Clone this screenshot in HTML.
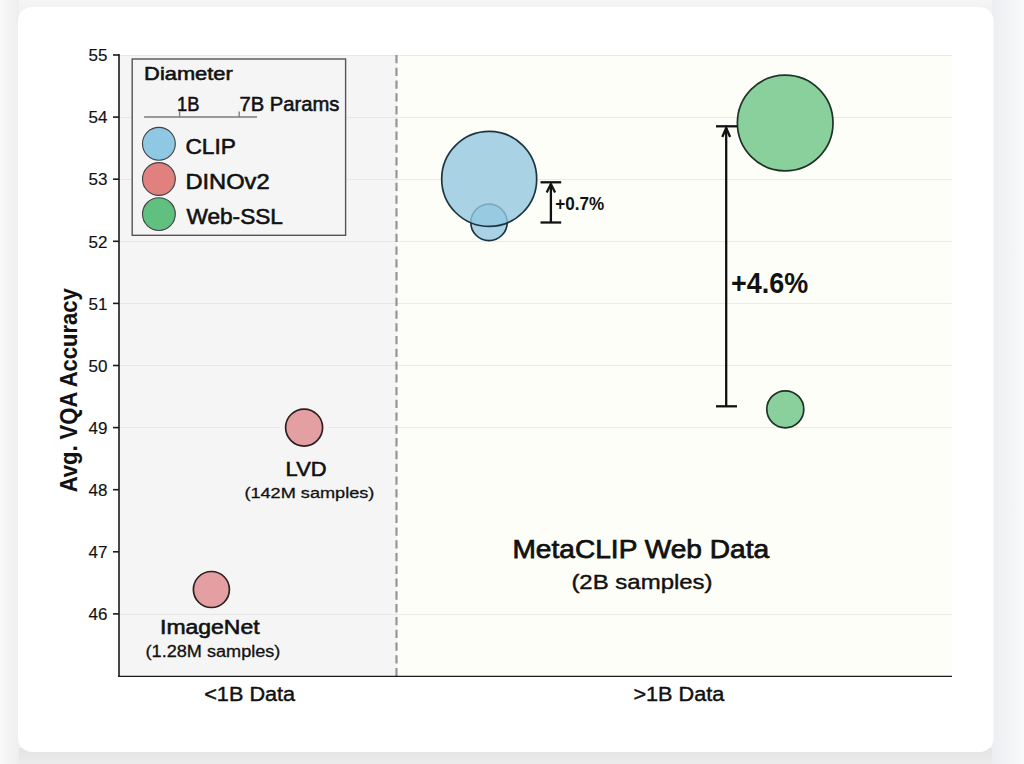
<!DOCTYPE html>
<html><head><meta charset="utf-8">
<style>
html,body{margin:0;padding:0;width:1024px;height:764px;overflow:hidden;background:#f3f3f3;}
svg{display:block;position:absolute;left:0;top:0;}
text{font-family:"Liberation Sans",sans-serif;fill:#111;stroke:#111;stroke-width:0.55px;}
.b{font-weight:bold;stroke-width:0px;}
.tk text{stroke-width:0.15px;}
</style></head>
<body>
<svg width="1024" height="764" viewBox="0 0 1024 764">
<defs>
<linearGradient id="bot" x1="0" y1="0" x2="0" y2="1">
<stop offset="0" stop-color="#e3e3e3"/><stop offset="1" stop-color="#ececec"/>
</linearGradient>
<linearGradient id="top" x1="0" y1="0" x2="0" y2="1">
<stop offset="0" stop-color="#f6f6f6"/><stop offset="1" stop-color="#f1f1f1"/>
</linearGradient>
<linearGradient id="lft" x1="0" y1="0" x2="1" y2="0">
<stop offset="0" stop-color="#f8f8f8"/><stop offset="1" stop-color="#eeeeee"/>
</linearGradient>
<linearGradient id="rgt" x1="0" y1="0" x2="1" y2="0">
<stop offset="0" stop-color="#edeef1"/><stop offset="1" stop-color="#f8f9fa"/>
</linearGradient>
</defs>
<!-- page background -->
<rect x="0" y="0" width="1024" height="764" fill="#f3f3f3"/>
<rect x="0" y="0" width="1024" height="9" fill="url(#top)"/>
<rect x="0" y="748" width="1024" height="16" fill="url(#bot)"/>
<rect x="0" y="0" width="19" height="764" fill="url(#lft)"/>
<rect x="992" y="0" width="32" height="764" fill="url(#rgt)"/>
<!-- card -->
<rect x="18" y="7" width="975.5" height="745" rx="14" ry="14" fill="#ffffff"/>

<!-- plot backgrounds -->
<rect x="119" y="55" width="278" height="621" fill="#f5f5f5"/>
<rect x="397" y="55" width="555" height="621" fill="#fefef8"/>

<!-- gridlines -->
<g stroke="#e6e6e6" stroke-width="1">
<line x1="119" y1="55.5" x2="397" y2="55.5"/>
<line x1="119" y1="117.5" x2="397" y2="117.5"/>
<line x1="119" y1="179.5" x2="397" y2="179.5"/>
<line x1="119" y1="241.5" x2="397" y2="241.5"/>
<line x1="119" y1="303.5" x2="397" y2="303.5"/>
<line x1="119" y1="365.5" x2="397" y2="365.5"/>
<line x1="119" y1="427.5" x2="397" y2="427.5"/>
<line x1="119" y1="614.5" x2="397" y2="614.5"/>
</g>
<g stroke="#ebebe5" stroke-width="1">
<line x1="397" y1="55.5" x2="952" y2="55.5"/>
<line x1="397" y1="117.5" x2="952" y2="117.5"/>
<line x1="397" y1="179.5" x2="952" y2="179.5"/>
<line x1="397" y1="241.5" x2="952" y2="241.5"/>
<line x1="397" y1="303.5" x2="952" y2="303.5"/>
<line x1="397" y1="365.5" x2="952" y2="365.5"/>
<line x1="397" y1="427.5" x2="952" y2="427.5"/>
<line x1="397" y1="614.5" x2="952" y2="614.5"/>
</g>

<!-- dashed divider -->
<line x1="396.5" y1="55" x2="396.5" y2="676" stroke="#969696" stroke-width="2.2" stroke-dasharray="8.3 4.47"/>

<!-- axes -->
<g stroke="#1a1a1a" stroke-width="1.6" fill="none">
<line x1="119" y1="54" x2="119" y2="677"/>
<line x1="118" y1="676.3" x2="952" y2="676.3" stroke-width="1.35"/>
<line x1="113" y1="55" x2="119" y2="55"/>
<line x1="113" y1="117.1" x2="119" y2="117.1"/>
<line x1="113" y1="179.2" x2="119" y2="179.2"/>
<line x1="113" y1="241.3" x2="119" y2="241.3"/>
<line x1="113" y1="303.4" x2="119" y2="303.4"/>
<line x1="113" y1="365.5" x2="119" y2="365.5"/>
<line x1="113" y1="427.6" x2="119" y2="427.6"/>
<line x1="113" y1="489.7" x2="119" y2="489.7"/>
<line x1="113" y1="551.8" x2="119" y2="551.8"/>
<line x1="113" y1="613.9" x2="119" y2="613.9"/>
</g>

<!-- y tick labels -->
<g class="tk" font-size="17" text-anchor="end">
<text x="107.5" y="61.2">55</text>
<text x="107.5" y="123.3">54</text>
<text x="107.5" y="185.4">53</text>
<text x="107.5" y="247.5">52</text>
<text x="107.5" y="309.6">51</text>
<text x="107.5" y="371.7">50</text>
<text x="107.5" y="433.8">49</text>
<text x="107.5" y="495.9">48</text>
<text x="107.5" y="558">47</text>
<text x="107.5" y="620.1">46</text>
</g>

<!-- y label -->
<text font-size="23" font-weight="bold" style="stroke-width:0.1px" transform="translate(77.2,492.3) rotate(-90)" textLength="204" lengthAdjust="spacingAndGlyphs">Avg. VQA Accuracy</text>

<!-- x labels -->
<text x="204.2" y="700.7" font-size="19.5" style="stroke-width:0.4px" textLength="91" lengthAdjust="spacingAndGlyphs">&lt;1B Data</text>
<text x="633.4" y="700.6" font-size="19.5" style="stroke-width:0.4px" textLength="91.0" lengthAdjust="spacingAndGlyphs">&gt;1B Data</text>

<!-- data circles -->
<circle cx="304.1" cy="427.6" r="24" fill="#f5f5f5"/>
<g fill="#f5f5f5">
<circle cx="211.4" cy="589.5" r="18.5"/>
<circle cx="304.1" cy="427.6" r="19"/>
</g>
<g fill="#fefef8">
<circle cx="489" cy="222.4" r="18.7"/>
<circle cx="489.2" cy="178.9" r="48"/>
<circle cx="785.3" cy="409.3" r="19"/>
<circle cx="785.2" cy="123" r="48.3"/>
</g>
<g stroke-width="1.7">
<circle cx="211.4" cy="589.5" r="18" fill="#e08a8e" fill-opacity="0.8" stroke="#2e1f20"/>
<circle cx="304.1" cy="427.6" r="18.5" fill="#e08a8e" fill-opacity="0.8" stroke="#2e1f20"/>
<circle cx="489" cy="222.4" r="18.2" fill="#93c8e0" fill-opacity="0.8" stroke="#1d3540"/>
<circle cx="489.2" cy="178.9" r="47.5" fill="#93c8e0" fill-opacity="0.8" stroke="#1d3540"/>
<circle cx="785.3" cy="409.3" r="18.5" fill="#6cc486" fill-opacity="0.8" stroke="#1d3324"/>
<circle cx="785.2" cy="123" r="47.8" fill="#6cc486" fill-opacity="0.8" stroke="#1d3324"/>
</g>

<!-- data labels -->
<text x="160.0" y="633.9" font-size="19.5" textLength="99.6" lengthAdjust="spacingAndGlyphs">ImageNet</text>
<text x="145.6" y="657.3" font-size="16" style="stroke-width:0.3px" textLength="134.8" lengthAdjust="spacingAndGlyphs">(1.28M samples)</text>
<text x="285.6" y="475.6" font-size="20" textLength="41.0" lengthAdjust="spacingAndGlyphs">LVD</text>
<text x="244.4" y="498.3" font-size="15.5" style="stroke-width:0.3px" textLength="130.0" lengthAdjust="spacingAndGlyphs">(142M samples)</text>
<text x="512.4" y="558.2" font-size="26" style="stroke-width:0.75px" textLength="256.8" lengthAdjust="spacingAndGlyphs">MetaCLIP Web Data</text>
<text x="571.4" y="588.8" font-size="21" style="stroke-width:0.4px" textLength="141.2" lengthAdjust="spacingAndGlyphs">(2B samples)</text>

<!-- brackets -->
<g stroke="#111" stroke-width="2.3" fill="none">
<line x1="540.5" y1="182.3" x2="561.2" y2="182.3"/>
<line x1="540.5" y1="222.5" x2="561.2" y2="222.5"/>
<line x1="550.9" y1="222.5" x2="550.9" y2="184"/>
<polyline points="546.7,192.4 550.9,184 555.1,192.4"/>
<line x1="716" y1="126.3" x2="737" y2="126.3"/>
<line x1="716" y1="406.3" x2="737" y2="406.3"/>
<line x1="726.2" y1="406.3" x2="726.2" y2="128"/>
<polyline points="722.3,137 726.2,128 730.1,137"/>
</g>
<text class="b" x="555.3" y="210.4" font-size="18.3" textLength="49" lengthAdjust="spacingAndGlyphs">+0.7%</text>
<text class="b" x="731.1" y="293.4" font-size="29.5" textLength="77.1" lengthAdjust="spacingAndGlyphs">+4.6%</text>

<!-- legend -->
<rect x="132.2" y="59" width="213.4" height="176.3" fill="#f5f5f5" stroke="#555" stroke-width="1.4"/>
<text x="144.1" y="80.4" font-size="18.5" textLength="88.7" lengthAdjust="spacingAndGlyphs">Diameter</text>
<text x="177.0" y="111" font-size="20.3" textLength="22.4" lengthAdjust="spacingAndGlyphs">1B</text>
<text x="239.4" y="111" font-size="20.3" textLength="100" lengthAdjust="spacingAndGlyphs">7B Params</text>
<g stroke="#7a7a7a" stroke-width="1.3">
<line x1="144.1" y1="117" x2="257" y2="117"/>
<line x1="179.6" y1="111.6" x2="179.6" y2="117"/>
<line x1="239.2" y1="111.6" x2="239.2" y2="117"/>
</g>
<g stroke="#444" stroke-width="1.15">
<circle cx="158.9" cy="143.8" r="16.4" fill="#8ec8e3"/>
<circle cx="158.9" cy="179" r="16.4" fill="#e0807f"/>
<circle cx="158.9" cy="214.1" r="16.4" fill="#5fc07f"/>
</g>
<text x="185.4" y="154" font-size="21.5" textLength="50.6" lengthAdjust="spacingAndGlyphs">CLIP</text>
<text x="185.4" y="189" font-size="21.5" textLength="84.2" lengthAdjust="spacingAndGlyphs">DINOv2</text>
<text x="186.4" y="224" font-size="21.5" textLength="96.6" lengthAdjust="spacingAndGlyphs">Web-SSL</text>
</svg>
</body></html>
